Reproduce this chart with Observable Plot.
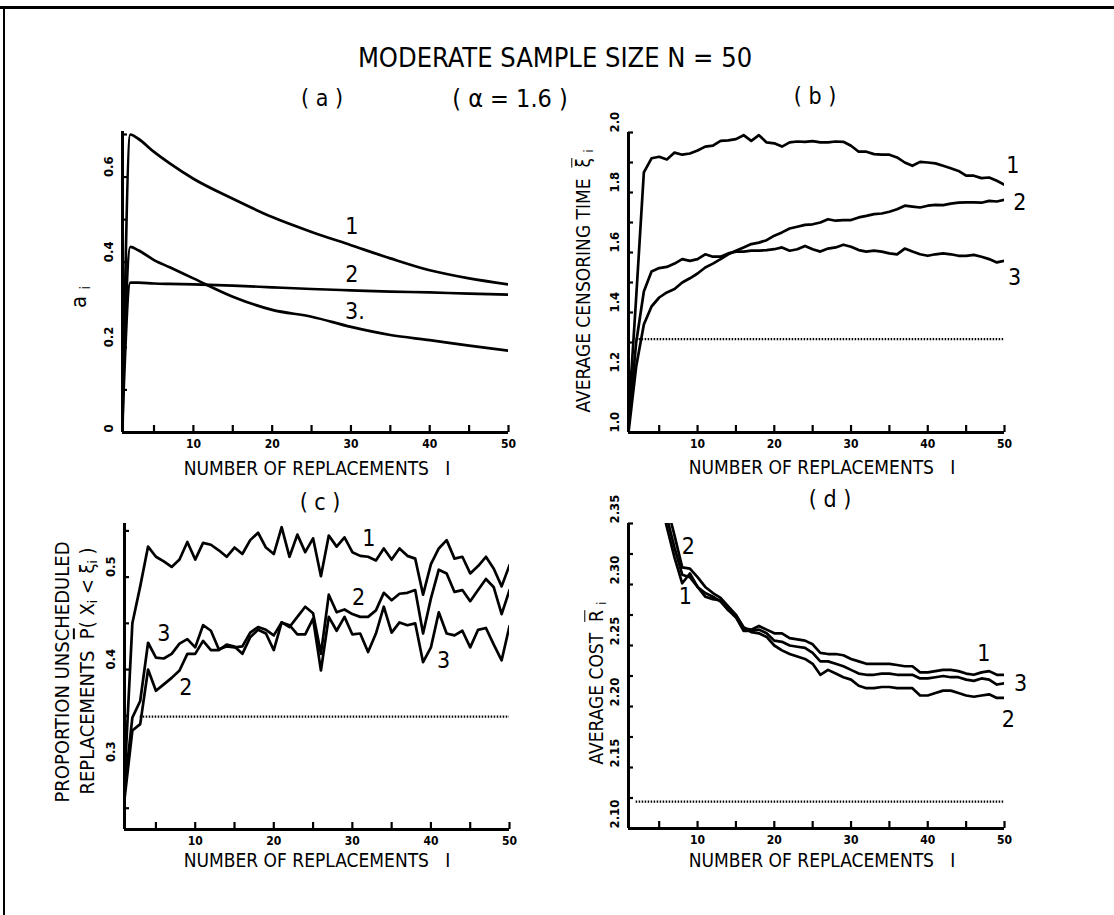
<!DOCTYPE html>
<html><head><meta charset="utf-8">
<script src="https://cdn.jsdelivr.net/npm/d3@7"></script>
<script src="https://cdn.jsdelivr.net/npm/@observablehq/plot@0.6"></script>
<style>
body{margin:0;background:#fff;}
#page{position:relative;width:1114px;height:915px;overflow:hidden;background:#fff;font-family:"Liberation Sans Narrow","DejaVu Sans Condensed","Liberation Sans",Arial,sans-serif;color:#000;}
.t{position:absolute;white-space:nowrap;transform:translate(-50%,-50%);line-height:1;}
.r{transform:translate(-50%,-50%) rotate(-90deg);}
.ob{text-decoration:overline;}
sub{font-size:65%;vertical-align:-0.25em;}
.panel{position:absolute;}
.bt{position:absolute;left:0;top:6px;width:1114px;height:3px;background:#000;}
.bl{position:absolute;left:3px;top:6px;width:2px;height:909px;background:#000;}
</style></head><body><div id="page"><div class="bt"></div><div class="bl"></div></div>
<script>
// ---------- shared axis data ----------
const xTicks = [5, 10, 15, 20, 25, 30, 35, 40, 45, 50];
const xTickLabels = [10, 20, 30, 40, 50];
const seriesNames = ["1", "2", "3"];

// ---------- panel (a): a_i ----------
const aX  = [1, 2, 3, 5, 7, 10, 15, 20, 25, 30, 35, 40, 45, 50];
const a1  = [0.00, 0.700, 0.690, 0.659, 0.632, 0.596, 0.549, 0.506, 0.471, 0.440, 0.409, 0.381, 0.362, 0.348];
const a2  = [0.03, 0.352, 0.352, 0.350, 0.349, 0.348, 0.345, 0.341, 0.337, 0.334, 0.331, 0.329, 0.326, 0.324];
const a3  = [0.06, 0.436, 0.428, 0.405, 0.388, 0.362, 0.319, 0.288, 0.272, 0.248, 0.229, 0.217, 0.204, 0.192];
const aYTicks = [0, 0.1, 0.2, 0.3, 0.4, 0.5, 0.6, 0.7];
const aYLabels = [0, 0.2, 0.4, 0.6];
const aLabX = [30.1, 30.1, 30.5];
const aLabY = [0.483, 0.370, 0.284];
const aLabT = ["1", "2", "3."];

// ---------- panel (b): average censoring time ----------
const iAll = d3.range(1, 51);
const b1 = [1.05,1.45,1.867,1.914,1.919,1.91,1.933,1.926,1.93,1.94,1.953,1.956,1.972,1.974,1.978,1.991,1.972,1.991,1.967,1.964,1.953,1.967,1.97,1.969,1.971,1.967,1.967,1.97,1.969,1.956,1.936,1.936,1.928,1.926,1.926,1.917,1.9,1.889,1.902,1.9,1.897,1.889,1.881,1.872,1.856,1.856,1.848,1.85,1.839,1.826];
const b2 = [1.0,1.22,1.36,1.42,1.45,1.467,1.478,1.5,1.514,1.53,1.55,1.563,1.578,1.594,1.606,1.617,1.628,1.633,1.641,1.656,1.667,1.68,1.686,1.692,1.694,1.7,1.711,1.706,1.708,1.708,1.717,1.722,1.728,1.73,1.736,1.744,1.756,1.753,1.75,1.756,1.759,1.758,1.763,1.766,1.767,1.767,1.766,1.772,1.77,1.776];
const b3 = [1.02,1.3,1.47,1.537,1.548,1.552,1.563,1.578,1.572,1.578,1.594,1.586,1.586,1.597,1.603,1.603,1.606,1.606,1.608,1.611,1.617,1.606,1.611,1.622,1.611,1.603,1.613,1.617,1.626,1.619,1.608,1.603,1.606,1.603,1.597,1.594,1.613,1.603,1.594,1.589,1.594,1.597,1.594,1.589,1.589,1.592,1.586,1.578,1.567,1.572];
const bRef = 1.311, bRefFrom = 2, bRefTo = 50;
const bYTicks = [1.0,1.1,1.2,1.3,1.4,1.5,1.6,1.7,1.8,1.9,2.0];
const bYLabels = [1.0,1.2,1.4,1.6,1.8,2.0];
const bLabX = [51.1, 52.0, 51.3];
const bLabY = [1.889, 1.767, 1.517];
const bLabT = ["1", "2", "3"];

// ---------- panel (c): proportion unscheduled replacements ----------
const c1 = [0.28,0.45,0.49,0.533,0.522,0.517,0.511,0.519,0.538,0.519,0.537,0.535,0.529,0.522,0.532,0.525,0.54,0.548,0.532,0.525,0.554,0.522,0.546,0.527,0.542,0.501,0.545,0.533,0.543,0.527,0.523,0.522,0.518,0.531,0.519,0.531,0.523,0.52,0.481,0.514,0.531,0.54,0.52,0.522,0.504,0.512,0.522,0.509,0.49,0.513];
const c2 = [0.26,0.334,0.341,0.4,0.377,0.384,0.391,0.399,0.417,0.417,0.431,0.421,0.421,0.427,0.425,0.417,0.435,0.443,0.439,0.421,0.451,0.446,0.457,0.468,0.461,0.417,0.481,0.462,0.465,0.46,0.457,0.457,0.464,0.483,0.475,0.482,0.483,0.486,0.439,0.477,0.508,0.504,0.484,0.486,0.474,0.486,0.498,0.489,0.46,0.486];
const c3 = [0.27,0.348,0.366,0.429,0.413,0.412,0.417,0.428,0.433,0.424,0.448,0.442,0.422,0.425,0.424,0.425,0.44,0.446,0.443,0.437,0.451,0.448,0.438,0.438,0.455,0.399,0.457,0.442,0.457,0.438,0.439,0.419,0.439,0.468,0.44,0.451,0.448,0.45,0.408,0.424,0.462,0.439,0.437,0.442,0.424,0.443,0.445,0.427,0.41,0.447];
const cRef = 0.349, cRefFrom = 3, cRefTo = 50;
const cYTicks = [0.25,0.3,0.35,0.4,0.45,0.5,0.55];
const cYLabels = [0.3,0.4,0.5];
const cLabX = [32.1, 30.8, 6.0, 8.8, 41.6];
const cLabY = [0.5415, 0.478, 0.439, 0.381, 0.41];
const cLabT = ["1", "2", "3", "2", "3"];

// ---------- panel (d): average cost ----------
const dX = d3.range(4, 51);
const d1 = [2.40,2.375,2.347,2.322,2.301,2.309,2.298,2.29,2.288,2.287,2.279,2.275,2.264,2.263,2.266,2.263,2.26,2.26,2.256,2.255,2.254,2.251,2.244,2.243,2.243,2.242,2.239,2.237,2.235,2.235,2.235,2.235,2.234,2.233,2.233,2.228,2.228,2.229,2.23,2.23,2.229,2.227,2.226,2.228,2.229,2.226,2.226];
const d2 = [2.415,2.39,2.365,2.34,2.314,2.313,2.306,2.298,2.293,2.289,2.282,2.275,2.265,2.261,2.26,2.257,2.25,2.246,2.243,2.241,2.239,2.235,2.226,2.23,2.227,2.224,2.222,2.217,2.215,2.215,2.216,2.216,2.215,2.215,2.215,2.209,2.209,2.211,2.213,2.213,2.211,2.209,2.208,2.209,2.21,2.207,2.207];
const d3v = [2.41,2.38,2.355,2.33,2.308,2.306,2.298,2.293,2.29,2.286,2.279,2.273,2.262,2.262,2.263,2.26,2.254,2.253,2.25,2.249,2.248,2.244,2.237,2.237,2.235,2.233,2.23,2.227,2.226,2.226,2.227,2.227,2.226,2.226,2.226,2.223,2.223,2.224,2.225,2.224,2.224,2.222,2.221,2.223,2.222,2.218,2.219];
const dRef = 2.122, dRefFrom = 2, dRefTo = 50;
const dYTicks = [2.1,2.125,2.15,2.175,2.2,2.225,2.25,2.275,2.3,2.325,2.35];
const dYLabels = [2.1,2.15,2.2,2.25,2.3,2.35];
const dLabX = [47.3, 52.1, 50.5, 8.8, 8.4];
const dLabY = [2.243, 2.219, 2.189, 2.331, 2.29];
const dLabT = ["1", "3", "2", "2", "1"];

// ---------- drawing ----------
const FONT = '"Liberation Sans Narrow","DejaVu Sans Condensed","Liberation Sans",Arial,sans-serif';
const page = document.getElementById("page");

function toRows(xs, ys) { return xs.map((x, i) => ({x, y: ys[i]})); }

function panel(o) {
  const marks = [];
  if (o.ref != null) {
    marks.push(Plot.ruleY([o.ref], {x1: o.refFrom, x2: o.refTo, stroke: "#000", strokeWidth: 2.2, strokeDasharray: "1.5,1.5"}));
  }
  for (const s of o.series) {
    marks.push(Plot.line(toRows(s.x, s.y), {x: "x", y: "y", stroke: "#000", strokeWidth: 2.7, curve: o.curve || "linear", clip: true}));
  }
  marks.push(Plot.ruleY([o.yDomain[0]], {stroke: "#000", strokeWidth: 3}));
  marks.push(Plot.ruleX([o.xDomain[0]], {stroke: "#000", strokeWidth: 3}));
  marks.push(Plot.axisX({ticks: xTicks, tickSize: -7, tickPadding: 14, strokeWidth: 2.2,
    tickFormat: d => xTickLabels.includes(d) ? String(d) : "", fontSize: 12, fontWeight: "bold", label: null}));
  marks.push(Plot.axisY({ticks: o.yTicks, tickSize: -5, tickPadding: 0, strokeWidth: 2.2, tickFormat: () => "", label: null}));
  marks.push(Plot.text(o.yLabels, {y: d => d, text: d => o.fmt(d), frameAnchor: "left", dx: -14, rotate: -90, fontSize: 13, fontWeight: "bold"}));
  marks.push(Plot.text(o.labX.map((x, i) => ({x, y: o.labY[i], t: o.labT[i]})), {x: "x", y: "y", text: "t", fontSize: 23}));
  const svg = Plot.plot({
    width: o.width, height: o.height,
    marginLeft: o.ml, marginRight: o.mr, marginTop: o.mt, marginBottom: o.mb,
    x: {domain: o.xDomain, axis: null},
    y: {domain: o.yDomain, axis: null},
    style: {fontFamily: FONT, background: "transparent", color: "#000", overflow: "visible"},
    marks
  });
  svg.classList.add("panel");
  svg.style.left = o.left + "px";
  svg.style.top = o.top + "px";
  page.appendChild(svg);
}

panel({left: 0, top: 110, width: 560, height: 350, ml: 122, mr: 52, mt: 21, mb: 28,
  xDomain: [1, 50], yDomain: [0, 0.707], yTicks: aYTicks, yLabels: aYLabels, fmt: d => d === 0 ? "0" : d3.format(".1f")(d),
  curve: "monotone-x",
  series: [{x: aX, y: a1}, {x: aX, y: a2}, {x: aX, y: a3}],
  labX: aLabX, labY: aLabY, labT: aLabT});

panel({left: 560, top: 110, width: 554, height: 350, ml: 68, mr: 110, mt: 22, mb: 28,
  xDomain: [1, 50], yDomain: [1.0, 2.0], yTicks: bYTicks, yLabels: bYLabels, fmt: d3.format(".1f"),
  ref: bRef, refFrom: bRefFrom, refTo: bRefTo,
  series: [{x: iAll, y: b1}, {x: iAll, y: b2}, {x: iAll, y: b3}],
  labX: bLabX, labY: bLabY, labT: bLabT});

panel({left: 0, top: 490, width: 560, height: 370, ml: 124, mr: 51, mt: 33, mb: 31,
  xDomain: [1, 50], yDomain: [0.227, 0.558], yTicks: cYTicks, yLabels: cYLabels, fmt: d3.format(".1f"),
  ref: cRef, refFrom: cRefFrom, refTo: cRefTo,
  series: [{x: iAll, y: c1}, {x: iAll, y: c2}, {x: iAll, y: c3}],
  labX: cLabX, labY: cLabY, labT: cLabT});

panel({left: 560, top: 490, width: 554, height: 370, ml: 68, mr: 110, mt: 33, mb: 32,
  xDomain: [1, 50], yDomain: [2.10, 2.35], yTicks: dYTicks, yLabels: dYLabels, fmt: d3.format(".2f"),
  ref: dRef, refFrom: dRefFrom, refTo: dRefTo,
  series: [{x: dX, y: d1}, {x: dX, y: d2}, {x: dX, y: d3v}],
  labX: dLabX, labY: dLabY, labT: dLabT});

// ---------- texts ----------
function txt(html, x, y, size, rotate) {
  const d = document.createElement("div");
  d.className = "t" + (rotate ? " r" : "");
  d.style.left = x + "px"; d.style.top = y + "px"; d.style.fontSize = size + "px";
  d.innerHTML = html;
  page.appendChild(d);
}
txt("MODERATE SAMPLE SIZE N = 50", 555, 57, 27);
txt("( a )", 322, 98, 23);
txt("( &alpha; = 1.6 )", 510, 98, 25);
txt("( b )", 815, 96, 23);
txt("( c )", 320, 502, 23);
txt("( d )", 830, 499, 23);
const xTitle = "NUMBER OF REPLACEMENTS&nbsp;&nbsp;&nbsp;I";
txt(xTitle, 317, 468, 19);
txt(xTitle, 822, 467, 19);
txt(xTitle, 317, 860, 19);
txt(xTitle, 822, 860, 19);
txt("a&nbsp;<sub>i</sub>", 80, 297, 22, true);
txt("AVERAGE CENSORING TIME&nbsp;&nbsp;<span class='ob'>&xi;</span>&nbsp;<sub>i</sub>", 585, 281, 19, true);
txt("PROPORTION UNSCHEDULED", 62, 672, 20, true);
txt("REPLACEMENTS&nbsp;&nbsp;<span class='ob'>P</span>( X<sub>i</sub> &lt; &xi;<sub>i</sub> )", 88, 671, 20, true);
txt("AVERAGE COST&nbsp;&nbsp;<span class='ob'>R</span>&nbsp;<sub>i</sub>", 598, 683, 19, true);
</script></body></html>
